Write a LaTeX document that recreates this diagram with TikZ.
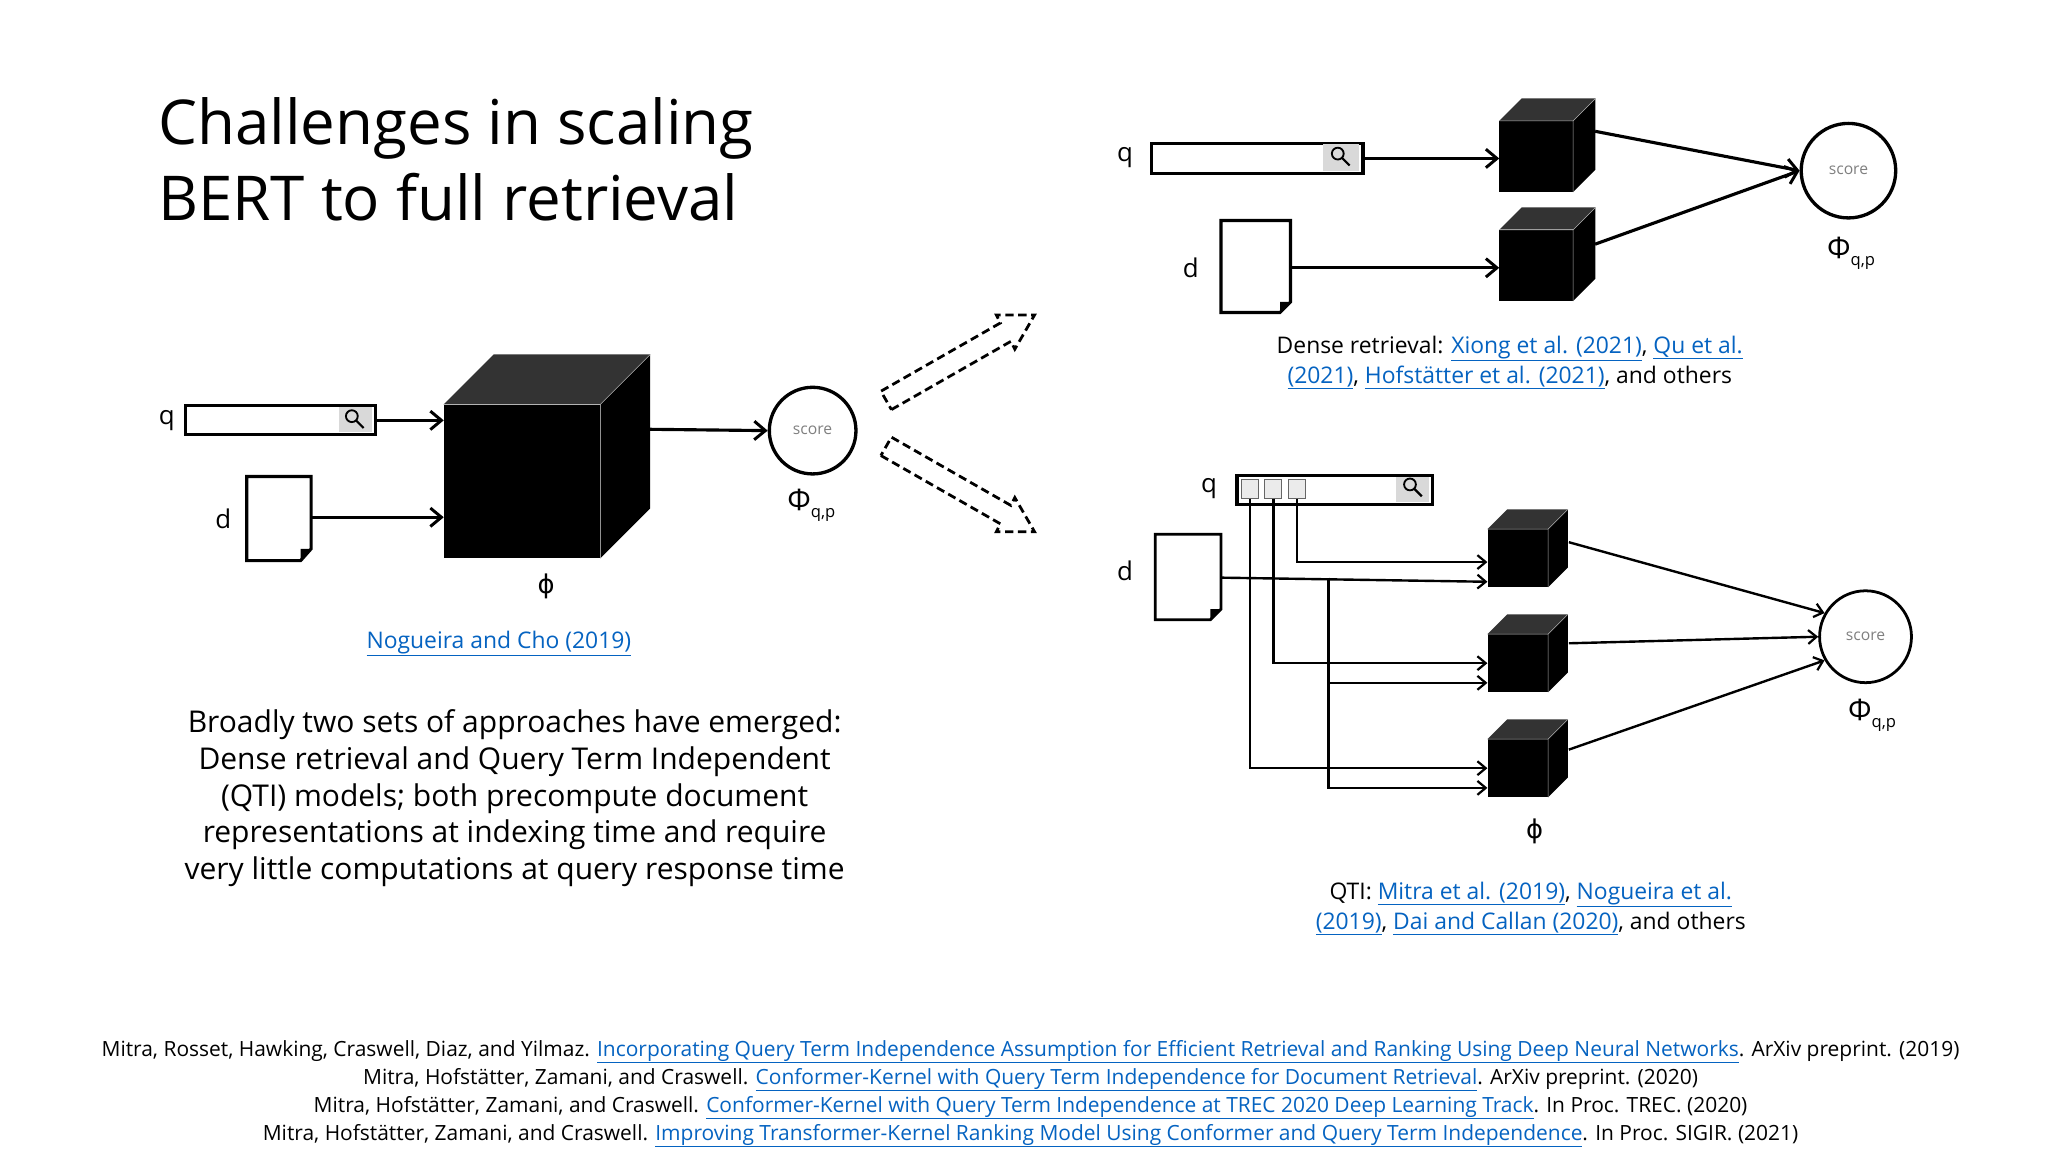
\documentclass[tikz,border=0pt]{standalone}
\usepackage{fontspec}
\setmainfont{Open Sans}
\newfontfamily\djv{DejaVu Sans}
\usetikzlibrary{calc,arrows.meta}
\definecolor{lnk}{RGB}{5,99,193}
\newcommand\lk[1]{\textcolor{lnk}{\underline{#1}}}
\newcommand\fsz[1]{\fontsize{#1}{1.2\dimexpr#1pt\relax}\selectfont}
\newcommand\fszb[2]{\fontsize{#1}{#2}\selectfont}
\newcommand\drawcube[2]{%
  \fill[black!80] (#1.north west) -- ++(#2,-#2) -- ($(#1.north east)+(#2,-#2)$) -- (#1.north east) -- cycle;
  \fill[black] (#1.north east) -- ++(#2,-#2) -- ($(#1.south east)+(#2,-#2)$) -- (#1.south east) -- cycle;
  \draw[white!70!black,line width=0.6pt] (#1.north west) -- (#1.north east) -- (#1.south east) (#1.north east) -- ++(#2,-#2);
}
\tikzset{
  lbl/.style={font=\fsz{28}},
  conn/.style={line width=3.4pt,-{Straight Barb[length=12pt,width=20pt,line width=3.2pt]}},
  connt/.style={line width=2.6pt,-{Straight Barb[length=9pt,width=15pt,line width=2.4pt]}},
  front/.style={fill=black,draw=none,inner sep=0pt},
  score/.style={circle,draw,line width=3.6pt,font=\fsz{17},text=black!50,inner sep=0pt},
  sbox/.style={draw,line width=3.4pt,fill=white,inner sep=0pt},
  captxt/.style={font=\fszb{24.8}{32.5pt},align=center},
  phiq/.style={font=\fsz{32}},
  hollow/.style={line width=3pt,dash pattern=on 9pt off 5pt,fill=white},
}
\newcommand\Phiqp{Φ\raisebox{-8pt}{\fsz{18}q,p}}
\begin{document}
\begin{tikzpicture}[x=0.05cm,y=-0.05cm]
\useasboundingbox[fill=white] (0,0) rectangle (1560,877.5);

% Title
\node[anchor=base west,font=\fsz{67}] (title) at (118,110) {Challenges in scaling};
\node[anchor=base west,font=\fsz{67}] (title2) at (118,168) {BERT to full retrieval};

% ---------- left diagram ----------
\node[sbox,minimum width=145*0.05cm,minimum height=22*0.05cm,anchor=north west] (q1) at (140,308) {};
\fill[black!15] (258,310) rectangle (283.5,329);
\draw[line width=2pt] (268,317) circle (4.5);
\draw[line width=2.4pt] (271,320) -- (277,326);
\node[lbl] (q1l) at (127,320) {q};
\draw[line width=3.4pt,fill=white] (188,363) -- (237,363) -- (237,418) -- (229,427) -- (188,427) -- cycle;
\fill (237,418) -- (229,427) -- (229,418) -- cycle;
\coordinate (d1) at (237,394);
\node[lbl] (d1l) at (170,395) {d};
\node[front,minimum width=119*0.05cm,minimum height=117*0.05cm,anchor=north west] (c1) at (338,308) {};
\drawcube{c1}{38}
\node[font=\djv\fsz{28}] (phi1) at (416,447) {ϕ};
\node[score,minimum size=66*0.05cm] (s1) at (619,328) {score};
\node[phiq] (P1) at (618,385) {\Phiqp};
\draw[conn] (q1.east) -- (q1.east -| c1.west);
\draw[conn] (d1) -- (d1 -| c1.west);
\coordinate (c1o) at (495,327);
\draw[conn] (c1o) -- (s1.west);
\node[captxt] (ref1) at (380,490) {\lk{Nogueira and Cho (2019)}};
\node[font=\fszb{32.5}{40pt},align=center] (body) at (392,608) {Broadly two sets of approaches have emerged:\\Dense retrieval and Query Term Independent\\(QTI) models; both precompute document\\representations at indexing time and require\\very little computations at query response time};

% dashed hollow arrows
\draw[hollow] (679,312) -- (770,260) -- (773,266) -- (788,240) -- (759,240) -- (762,246) -- (671,298) -- cycle;
\draw[hollow] (671,347) -- (762,399) -- (759,405) -- (788,405) -- (773,379) -- (770,385) -- (679,333) -- cycle;

% ---------- top right ----------
\node[sbox,minimum width=161*0.05cm,minimum height=23*0.05cm,anchor=north west] (q2) at (876,108) {};
\fill[black!15] (1008,110) rectangle (1035.5,130);
\draw[line width=2pt] (1019,117) circle (4.5);
\draw[line width=2.4pt] (1022,120) -- (1028,126);
\node[lbl] (q2l) at (857,120) {q};
\draw[line width=3.4pt,fill=white] (930,168) -- (983,168) -- (983,230) -- (975,238) -- (930,238) -- cycle;
\fill (983,230) -- (975,238) -- (975,230) -- cycle;
\coordinate (d2) at (983,204);
\node[lbl] (d2l) at (907,204) {d};
\node[front,minimum width=56*0.05cm,minimum height=54*0.05cm,anchor=north west] (c2a) at (1142,92) {};
\drawcube{c2a}{17}
\node[front,minimum width=56*0.05cm,minimum height=54*0.05cm,anchor=north west] (c2b) at (1142,175) {};
\drawcube{c2b}{17}
\node[score,minimum size=72*0.05cm] (s2) at (1408,130) {score};
\node[phiq] (P2) at (1410,193) {\Phiqp};
\draw[conn] (q2.east) -- (q2.east -| c2a.west);
\draw[conn] (d2) -- (d2 -| c2b.west);
\coordinate (c2ao) at (1215,100);
\coordinate (c2bo) at (1215,186);
\draw[conn] (c2ao) -- (s2.west);
\draw[conn] (c2bo) -- (s2.west);
\node[captxt] (cap2) at (1150,276) {Dense retrieval: \lk{Xiong et al. (2021)}, \lk{Qu et al.}\\\lk{(2021)}, \lk{Hofstätter et al. (2021)}, and others};

% ---------- bottom right ----------
\node[sbox,minimum width=149*0.05cm,minimum height=22*0.05cm,anchor=north west] (q3) at (941,361) {};
\fill[black!15] (1063,363) rectangle (1088.5,382);
\draw[line width=2pt] (1074,369) circle (4.5);
\draw[line width=2.4pt] (1077,372) -- (1083,378);
\node[lbl] (q3l) at (921,372) {q};
\foreach \i/\x in {1/945,2/963,3/981}{
  \node[draw=black!60,fill=black!8,line width=1.2pt,minimum width=13*0.05cm,minimum height=14*0.05cm,anchor=north west,inner sep=0pt] (t\i) at (\x,365) {};
}
\draw[line width=3pt,fill=white] (880,407) -- (930,407) -- (930,464) -- (922,472) -- (880,472) -- cycle;
\fill (930,464) -- (922,472) -- (922,464) -- cycle;
\node[lbl] (d3l) at (857,435) {d};
\foreach \n/\y in {A/403,B/483,C/563}{
  \node[front,minimum width=46*0.05cm,minimum height=44*0.05cm,anchor=north west] (c3\n) at (1133,\y) {};
  \drawcube{c3\n}{15}
}
\node[font=\djv\fsz{28}] (phi3) at (1169,633) {ϕ};
\node[score,minimum size=70*0.05cm,line width=3pt] (s3) at (1421,485) {score};
\node[phiq] (P3) at (1426,545) {\Phiqp};
\coordinate (d3) at (930,440);
\coordinate (br) at (1012,440);
\draw[connt] (t3.south) |- ($(c3A.west)+(0,3)$);
\draw[connt] (d3) -- ($(c3A.west)+(0,18)$);
\draw[connt] (t2.south) |- ($(c3B.west)+(0,0)$);
\draw[connt] (br) |- ($(c3B.west)+(0,15)$);
\draw[connt] (t1.south) |- ($(c3C.west)+(0,0)$);
\draw[connt] (br) |- ($(c3C.west)+(0,15)$);
\coordinate (oA) at (1195,413);
\coordinate (oB) at (1195,490);
\coordinate (oC) at (1195,571);
\draw[connt] (oA) -- (s3.150);
\draw[connt] (oB) -- (s3.west);
\draw[connt] (oC) -- (s3.210);
\node[captxt] (cap3) at (1166,692) {QTI: \lk{Mitra et al. (2019)}, \lk{Nogueira et al.}\\\lk{(2019)}, \lk{Dai and Callan (2020)}, and others};

% ---------- footnotes ----------
\node[font=\fszb{22.7}{30.4pt},align=center] (foot) at (785,833) {Mitra, Rosset, Hawking, Craswell, Diaz, and Yilmaz. \lk{Incorporating Query Term Independence Assumption for Efficient Retrieval and Ranking Using Deep Neural Networks}. ArXiv preprint. (2019)\\
Mitra, Hofstätter, Zamani, and Craswell. \lk{Conformer-Kernel with Query Term Independence for Document Retrieval}. ArXiv preprint. (2020)\\
Mitra, Hofstätter, Zamani, and Craswell. \lk{Conformer-Kernel with Query Term Independence at TREC 2020 Deep Learning Track}. In Proc. TREC. (2020)\\
Mitra, Hofstätter, Zamani, and Craswell. \lk{Improving Transformer-Kernel Ranking Model Using Conformer and Query Term Independence}. In Proc. SIGIR. (2021)};
\end{tikzpicture}
\end{document}
